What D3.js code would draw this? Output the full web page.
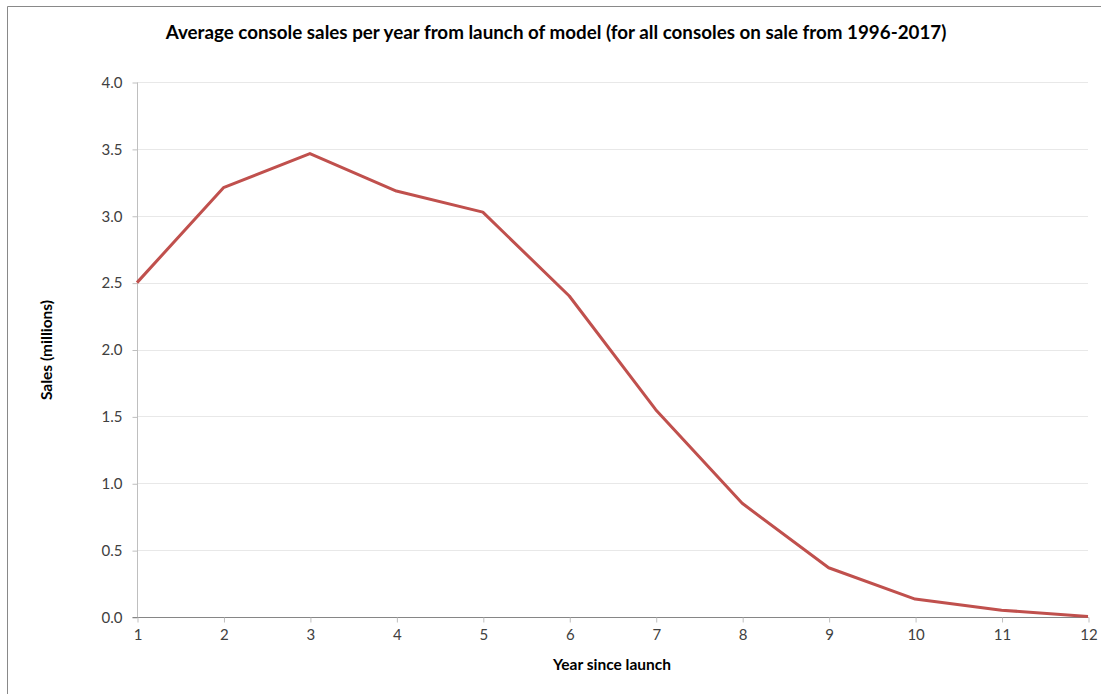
<!DOCTYPE html>
<html>
<head>
<meta charset="utf-8">
<script src="https://cdn.jsdelivr.net/npm/d3@7"></script>
<style>
  html, body { margin: 0; padding: 0; background: #fff; }
  svg { display: block; }
  text { font-family: Lato, "Open Sans", sans-serif; }
</style>
</head>
<body>
<svg id="chart" width="1101" height="694"></svg>
<script>
const years = [1, 2, 3, 4, 5, 6, 7, 8, 9, 10, 11, 12];
const sales = [2.50, 3.21, 3.465, 3.185, 3.027, 2.40, 1.55, 0.85, 0.368, 0.134, 0.051, 0.004];
const yTicks = [0, 0.5, 1.0, 1.5, 2.0, 2.5, 3.0, 3.5, 4.0];
const titleText = "Average console sales per year from launch of model (for all consoles on sale from 1996-2017)";
const xTitle = "Year since launch";
const yTitle = "Sales (millions)";

(function () {
const svg = d3.select("#chart");
const W = 1101, H = 694;
const mLeft = 137, mRight = 1088, mTop = 82, mBottom = 617;

// outer border (top and left visible)
svg.append("path")
  .attr("d", `M7.5,${H} L7.5,6.5 L${W},6.5`)
  .attr("fill", "none").attr("stroke", "#898989").attr("stroke-width", 1);

const x = d3.scaleLinear().domain([1, 12]).range([mLeft, mRight]);
const y = d3.scaleLinear().domain([0, 4]).range([mBottom, mTop]);

// gridlines
svg.append("g").selectAll("line").data(yTicks.filter(d => d > 0)).join("line")
  .attr("x1", mLeft).attr("x2", mRight)
  .attr("y1", d => Math.round(y(d)) + 0.5).attr("y2", d => Math.round(y(d)) + 0.5)
  .attr("stroke", "#e8e8e8").attr("stroke-width", 1);

// y axis
const yAxis = d3.axisLeft(y).tickValues(yTicks).tickFormat(d3.format(".1f")).tickSize(5).tickPadding(10);
const gy = svg.append("g").attr("transform", `translate(${mLeft + 0.5},0.5)`).call(yAxis);
gy.select(".domain").attr("stroke", "#bfbfbf").attr("d", `M0,${mTop}V${mBottom}`);
gy.selectAll(".tick line").attr("stroke", "#bfbfbf");
gy.selectAll(".tick text").attr("fill", "#404040").style("font-size", "15px").style("font-family", "Lato, sans-serif");

// x axis
const xAxis = d3.axisBottom(x).tickValues(years).tickFormat(d3.format("d")).tickSize(5).tickPadding(7);
const gx = svg.append("g").attr("transform", `translate(0.5,${mBottom + 0.5})`).call(xAxis);
gx.select(".domain").attr("stroke", "#868686").attr("d", `M${mLeft - 5},0H${mRight}`);
gx.selectAll(".tick line").attr("stroke", "#bfbfbf");
gx.selectAll(".tick text").attr("fill", "#404040").style("font-size", "15px").style("font-family", "Lato, sans-serif");

// line
const line = d3.line().x((d, i) => x(years[i])).y(d => y(d));
svg.append("path").datum(sales)
  .attr("d", line)
  .attr("fill", "none").attr("stroke", "#c0504d").attr("stroke-width", 3)
  .attr("stroke-linejoin", "round");

// titles
svg.append("text").attr("x", 556).attr("y", 39).attr("text-anchor", "middle")
  .style("font-size", "18.8px").style("font-weight", "bold").attr("fill", "#000").text(titleText);

svg.append("text").attr("x", 612).attr("y", 670).attr("text-anchor", "middle")
  .style("font-size", "15.5px").style("font-weight", "bold").attr("fill", "#000").text(xTitle);

svg.append("text").attr("transform", "translate(52,350) rotate(-90)").attr("text-anchor", "middle")
  .style("font-size", "15.5px").style("font-weight", "bold").attr("fill", "#000").text(yTitle);
})();
</script>
</body>
</html>
